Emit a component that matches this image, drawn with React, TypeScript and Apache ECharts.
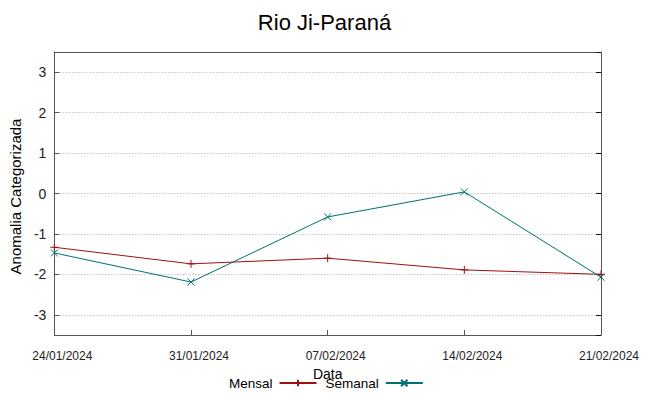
import React, { useEffect, useRef } from "react";
import * as echarts from "echarts";

const dates = ["24/01/2024", "31/01/2024", "07/02/2024", "14/02/2024", "21/02/2024"];
const mensal = [-1.33, -1.74, -1.6, -1.89, -2.0];
const semanal = [-1.47, -2.19, -0.58, 0.04, -2.07];

const SANS = "'Liberation Sans', Arial, sans-serif";

export default function App() {
  const ref = useRef<HTMLDivElement>(null);
  useEffect(() => {
    const chart = echarts.init(ref.current!, null, { renderer: "svg" });
    const plusPath = "path://M0,5L10,5M5,0L5,10";
    const crossPath = "path://M0,0L10,10M10,0L0,10";
    const hideFrac = (v: number) => (Math.abs(v - Math.round(v)) < 1e-6 ? String(Math.round(v)) : "");
    chart.setOption({
      animation: false,
      backgroundColor: "#fff",
      title: {
        text: "Rio Ji-Paraná",
        left: "center",
        top: 6,
        textStyle: { fontFamily: SANS, fontSize: 22, fontWeight: "normal", color: "#000" },
      },
      legend: {
        left: 229,
        top: 376,
        align: "right",
        itemWidth: 37,
        itemHeight: 8,
        itemGap: 8,
        padding: 0,
        textStyle: { fontFamily: SANS, fontSize: 13.5, color: "#000", padding: [0, 2, 0, 0] },
        data: ["Mensal", "Semanal"],
      },
      grid: { left: 48, right: 48, top: 52, bottom: 61, containLabel: false },
      xAxis: [
        {
          type: "category",
          data: dates,
          boundaryGap: false,
          position: "bottom",
          name: "Data",
          nameLocation: "middle",
          nameGap: 26,
          nameTextStyle: { fontFamily: SANS, fontSize: 14, color: "#000" },
          axisLine: { show: true, onZero: false, lineStyle: { color: "#555", width: 1 } },
          axisTick: { show: true, inside: true, length: 5, alignWithLabel: true, lineStyle: { color: "#555" } },
          axisLabel: { fontFamily: SANS, fontSize: 12, color: "#222", margin: 15, interval: 0, padding: [0, 0, 0, 16] },
          splitLine: { show: false },
        },
        {
          type: "category",
          data: dates,
          boundaryGap: false,
          position: "top",
          axisLine: { show: true, onZero: false, lineStyle: { color: "#555", width: 1 } },
          axisTick: { show: false },
          axisLabel: { show: false },
          splitLine: { show: false },
        },
      ],
      yAxis: [
        {
          type: "value",
          min: -3.5,
          max: 3.5,
          position: "left",
          name: "Anomalia Categorizada",
          nameLocation: "middle",
          nameRotate: 90,
          nameGap: 27,
          nameTextStyle: { fontFamily: SANS, fontSize: 15, color: "#000", padding: [0, 6, 0, 0] },
          axisLine: { show: true, onZero: false, lineStyle: { color: "#555", width: 1 } },
          axisTick: { show: true, inside: true, length: 5, lineStyle: { color: "#555" } },
          axisLabel: { fontFamily: SANS, fontSize: 14, color: "#222", margin: 8, formatter: hideFrac, showMinLabel: false, showMaxLabel: false },
          splitLine: { show: true, lineStyle: { color: "#aaa", type: [1, 2], width: 1 } },
        },
        {
          type: "value",
          min: -3.5,
          max: 3.5,
          position: "right",
          axisLine: { show: true, onZero: false, lineStyle: { color: "#555", width: 1 } },
          axisTick: { show: true, inside: true, length: 5, lineStyle: { color: "#111" } },
          axisLabel: { show: false },
          splitLine: { show: false },
        },
      ],
      series: [
        {
          name: "Mensal",
          type: "line",
          data: mensal,
          xAxisIndex: 0,
          yAxisIndex: 0,
          symbol: plusPath,
          symbolSize: 8,
          lineStyle: { color: "#a01010", width: 1 },
          itemStyle: { color: "#a01010", borderColor: "#a01010", borderWidth: 1 },
        },
        {
          name: "Semanal",
          type: "line",
          data: semanal,
          xAxisIndex: 0,
          yAxisIndex: 0,
          symbol: crossPath,
          symbolSize: 7,
          lineStyle: { color: "#007070", width: 1 },
          itemStyle: { color: "#007070", borderColor: "#007070", borderWidth: 1 },
        },
      ],
    });
    return () => chart.dispose();
  }, []);
  return <div ref={ref} style={{ width: 649, height: 396, position: "absolute", left: 0, top: 0 }} />;
}
